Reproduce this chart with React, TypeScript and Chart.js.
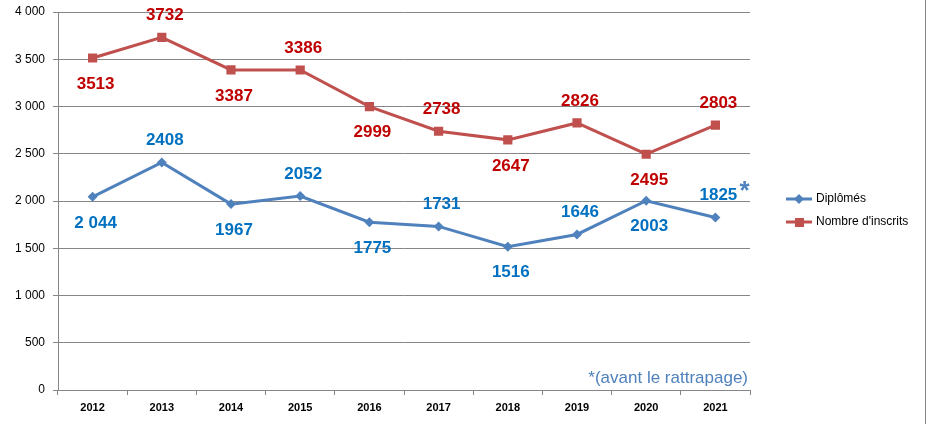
import React, { useEffect, useRef } from "react";
import { Chart, registerables } from "chart.js";

Chart.register(...registerables);

const years = ["2012", "2013", "2014", "2015", "2016", "2017", "2018", "2019", "2020", "2021"];
const diplomes = [2044, 2408, 1967, 2052, 1775, 1731, 1516, 1646, 2003, 1825];
const inscrits = [3513, 3732, 3387, 3386, 2999, 2738, 2647, 2826, 2495, 2803];
const diplomesLabels = ["2 044", "2408", "1967", "2052", "1775", "1731", "1516", "1646", "2003", "1825"];
const inscritsLabels = ["3513", "3732", "3387", "3386", "2999", "2738", "2647", "2826", "2495", "2803"];
// label placement: 1 = above, -1 = below
const diplomesPlace = [-1, 1, -1, 1, -1, 1, -1, 1, -1, 1];
const inscritsPlace = [-1, 1, -1, 1, -1, 1, -1, 1, -1, 1];
const yTicks = [0, 500, 1000, 1500, 2000, 2500, 3000, 3500, 4000];
const seriesNames = ["Diplômés", "Nombre d'inscrits"];
const footnote = "*(avant le rattrapage)";

const BLUE_LINE = "#4F81BD";
const RED_LINE = "#C0504D";
const BLUE_TXT = "#0070C0";
const RED_TXT = "#C00000";
const GRID = "#868686";

function fmt(v: number) {
  const s = String(v);
  return s.length > 3 ? s.slice(0, s.length - 3) + " " + s.slice(s.length - 3) : s;
}

const labelsPlugin = {
  id: "customLabels",
  afterDatasetsDraw(chart: any) {
    const ctx = chart.ctx;
    ctx.save();
    ctx.font = "bold 17px 'Liberation Sans', Arial, sans-serif";
    ctx.textAlign = "center";
    ctx.textBaseline = "middle";
    const sets = [
      { idx: 0, labels: diplomesLabels, place: diplomesPlace, color: BLUE_TXT },
      { idx: 1, labels: inscritsLabels, place: inscritsPlace, color: RED_TXT },
    ];
    for (const s of sets) {
      const meta = chart.getDatasetMeta(s.idx);
      meta.data.forEach((pt: any, i: number) => {
        const dy = s.place[i] > 0 ? -22 : 26;
        ctx.fillStyle = s.color;
        ctx.fillText(s.labels[i], pt.x + 3, pt.y + dy);
      });
    }
    // asterisk for last diplômés point
    const metaD = chart.getDatasetMeta(0);
    const last = metaD.data[metaD.data.length - 1];
    ctx.fillStyle = BLUE_LINE;
    ctx.font = "bold 26px 'Liberation Sans', Arial, sans-serif";
    ctx.textAlign = "left";
    ctx.fillText("*", last.x + 24, last.y - 26);

    // footnote
    const ca = chart.chartArea;
    ctx.font = "17px 'Liberation Sans', Arial, sans-serif";
    ctx.textAlign = "right";
    ctx.textBaseline = "middle";
    ctx.fillStyle = BLUE_LINE;
    ctx.fillText(footnote, ca.right - 2, ca.bottom - 12);

    // legend
    const legendX = 786;
    const legendY = [199, 222];
    const colors = [BLUE_LINE, RED_LINE];
    ctx.font = "12px 'Liberation Sans', Arial, sans-serif";
    ctx.textBaseline = "middle";
    for (let i = 0; i < 2; i++) {
      const y = legendY[i];
      ctx.strokeStyle = colors[i];
      ctx.lineWidth = 3;
      ctx.beginPath();
      ctx.moveTo(legendX, y);
      ctx.lineTo(legendX + 26, y);
      ctx.stroke();
      ctx.fillStyle = colors[i];
      if (i === 0) {
        ctx.beginPath();
        ctx.moveTo(legendX + 13, y - 5);
        ctx.lineTo(legendX + 18, y);
        ctx.lineTo(legendX + 13, y + 5);
        ctx.lineTo(legendX + 8, y);
        ctx.closePath();
        ctx.fill();
      } else {
        ctx.fillRect(legendX + 9, y - 4, 9, 9);
      }
      ctx.fillStyle = "#000000";
      ctx.textAlign = "left";
      ctx.fillText(seriesNames[i], legendX + 30, y);
    }

    // right frame line
    ctx.strokeStyle = GRID;
    ctx.lineWidth = 1;
    ctx.beginPath();
    ctx.moveTo(925.5, 0);
    ctx.lineTo(925.5, chart.height);
    ctx.stroke();
    ctx.restore();
  },
};

export default function App() {
  const canvasRef = useRef<HTMLCanvasElement | null>(null);
  useEffect(() => {
    document.body.style.margin = "0";
    const canvas = canvasRef.current!;
    const chart = new Chart(canvas, {
      type: "line",
      data: {
        labels: years,
        datasets: [
          {
            label: seriesNames[0],
            data: diplomes,
            borderColor: BLUE_LINE,
            backgroundColor: BLUE_LINE,
            borderWidth: 3,
            pointStyle: "rectRot",
            pointRadius: 5,
            pointBorderWidth: 0,
            tension: 0,
          },
          {
            label: seriesNames[1],
            data: inscrits,
            borderColor: RED_LINE,
            backgroundColor: RED_LINE,
            borderWidth: 3,
            pointStyle: "rect",
            pointRadius: 6.5,
            pointBorderWidth: 0,
            tension: 0,
          },
        ],
      },
      options: {
        responsive: false,
        animation: false,
        layout: { padding: { left: 0, top: 12, right: 178, bottom: 0 } },
        plugins: {
          legend: { display: false },
          tooltip: { enabled: false },
        },
        scales: {
          x: {
            offset: true,
            grid: {
              offset: true,
              drawOnChartArea: false,
              drawTicks: true,
              tickLength: 5,
              color: GRID,
            },
            border: { color: GRID, width: 1 },
            ticks: {
              color: "#000000",
              font: { family: "'Liberation Sans', Arial, sans-serif", size: 11, weight: "bold" },
              padding: 6,
              maxRotation: 0,
            },
            afterFit(scale: any) {
              scale.height = 34;
              scale.paddingLeft = 0;
              scale.paddingRight = 0;
            },
          },
          y: {
            min: 0,
            max: 4000,
            afterBuildTicks(scale: any) {
              scale.ticks = yTicks.map((v) => ({ value: v }));
            },
            grid: {
              color: GRID,
              drawTicks: true,
              tickLength: 5,
            },
            border: { color: GRID, width: 1 },
            ticks: {
              color: "#000000",
              font: { family: "'Liberation Sans', Arial, sans-serif", size: 12 },
              padding: 8,
              callback: (v: any) => fmt(Number(v)),
            },
            afterFit(scale: any) {
              scale.width = 58;
              scale.paddingTop = 0;
              scale.paddingBottom = 0;
            },
          },
        },
      },
      plugins: [labelsPlugin],
    } as any);
    return () => chart.destroy();
  }, []);
  return <canvas ref={canvasRef} width={928} height={424} style={{ display: "block" }} />;
}
